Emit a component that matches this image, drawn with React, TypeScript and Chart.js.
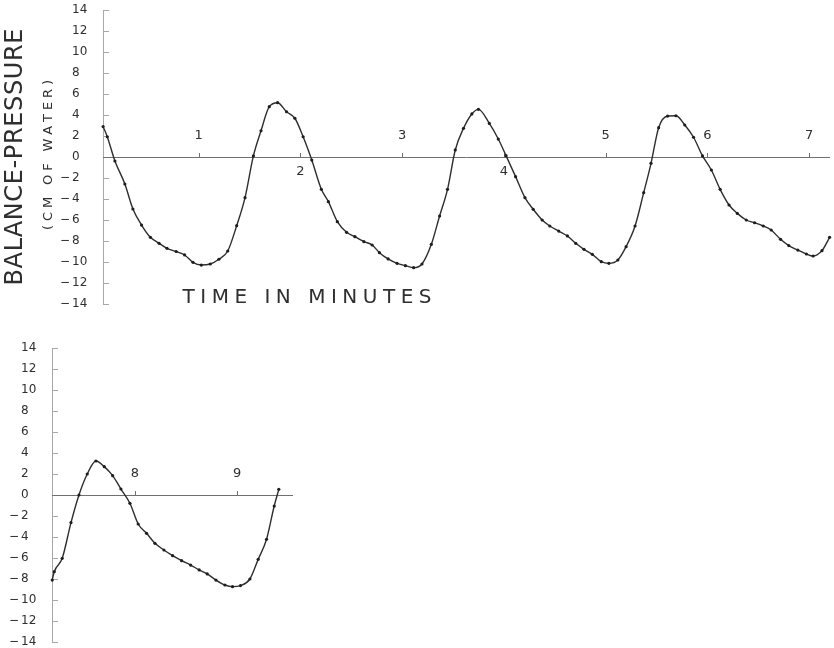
import React, { useEffect, useRef } from "react";
import { Chart, registerables } from "chart.js";

Chart.register(...registerables);

// ---- data (time in minutes, balance-pressure in cm of water) ----
const topTimes = [
  0.062, 0.103, 0.178, 0.276, 0.355, 0.44, 0.527, 0.612, 0.69, 0.78, 0.863, 0.945, 1.027, 1.115, 1.2, 1.287,
  1.375, 1.457, 1.539, 1.614, 1.695, 1.777, 1.865, 1.947, 2.028, 2.113, 2.207, 2.276, 2.364, 2.455, 2.537,
  2.625, 2.706, 2.778, 2.863, 2.951, 3.033, 3.114, 3.196, 3.288, 3.369, 3.447, 3.523, 3.604, 3.686, 3.751,
  3.858, 3.946, 4.022, 4.116, 4.208, 4.289, 4.377, 4.452, 4.54, 4.625, 4.707, 4.788, 4.87, 4.958, 5.033,
  5.121, 5.202, 5.29, 5.375, 5.447, 5.522, 5.61, 5.692, 5.779, 5.865, 5.953, 6.04, 6.126, 6.214, 6.295,
  6.383, 6.465, 6.55, 6.628, 6.72, 6.801, 6.89, 6.974, 7.04, 7.127, 7.202,
];
const topValues = [
  2.9, 1.93, -0.38, -2.57, -4.95, -6.48, -7.65, -8.22, -8.7, -9.0, -9.33, -10.03, -10.29, -10.19, -9.74, -8.95,
  -6.54, -3.87, 0.1, 2.5, 4.79, 5.17, 4.31, 3.69, 1.93, -0.29, -3.08, -4.25, -6.16, -7.17, -7.59,
  -8.06, -8.38, -9.11, -9.71, -10.13, -10.35, -10.54, -10.19, -8.32, -5.62, -3.08, 0.67, 2.73, 4.1, 4.54,
  3.2, 1.71, 0.13, -1.87, -3.87, -4.98, -6.0, -6.57, -7.05, -7.52, -8.22, -8.79, -9.27, -9.97, -10.13,
  -9.81, -8.54, -6.57, -3.4, -0.6, 2.79, 3.9, 3.93, 3.05, 1.88, 0.1, -1.24, -3.08, -4.57, -5.37,
  -6.0, -6.26, -6.57, -6.95, -7.84, -8.44, -8.86, -9.24, -9.43, -8.92, -7.65,
];

const bottomTimes = [
  7.19, 7.21, 7.288, 7.374, 7.452, 7.533, 7.618, 7.7, 7.782, 7.863, 7.951, 8.032, 8.114, 8.196, 8.284,
  8.369, 8.457, 8.545, 8.629, 8.708, 8.793, 8.881, 8.956, 9.034, 9.126, 9.207, 9.289, 9.364, 9.409,
];
const bottomValues = [
  -8.1, -7.3, -6.03, -2.63, 0, 2.0, 3.24, 2.7, 1.84, 0.57, -0.79, -2.76, -3.65, -4.6, -5.24,
  -5.78, -6.25, -6.67, -7.14, -7.52, -8.1, -8.57, -8.73, -8.63, -8.0, -6.13, -4.22, -1.05, 0.54,
];

const yTicks = [14, 12, 10, 8, 6, 4, 2, 0, -2, -4, -6, -8, -10, -12, -14];
const topMinutes = [1, 2, 3, 4, 5, 6, 7];
const topMinuteAbove = [true, false, true, false, true, true, true];
const bottomMinutes = [8, 9];
const bottomMinuteAbove = [true, true];

const yTitle = "BALANCE-PRESSURE";
const ySubTitle = "(CM OF WATER)";
const xTitle = "TIME IN MINUTES";

const FONT = "'DejaVu Sans', 'Liberation Sans', sans-serif";
const INK = "#2f2f2f";

function drawSpaced(
  ctx: CanvasRenderingContext2D,
  text: string,
  cx: number,
  cy: number,
  targetWidth: number,
  rotate: boolean
) {
  ctx.save();
  ctx.translate(cx, cy);
  if (rotate) ctx.rotate(-Math.PI / 2);
  const chars = text.split("");
  const widths = chars.map((c) => ctx.measureText(c).width);
  const natural = widths.reduce((a, b) => a + b, 0);
  const gap = chars.length > 1 ? (targetWidth - natural) / (chars.length - 1) : 0;
  let x = -targetWidth / 2;
  ctx.textAlign = "left";
  ctx.textBaseline = "middle";
  chars.forEach((c, i) => {
    ctx.fillText(c, x, 0);
    x += widths[i] + gap;
  });
  ctx.restore();
}

function makeAxesPlugin(minutes: number[], above: boolean[], withTitles: boolean) {
  return {
    id: "paperAxes",
    beforeDatasetsDraw(chart: any) {
      const ctx: CanvasRenderingContext2D = chart.ctx;
      const xs = chart.scales.x;
      const ys = chart.scales.y;
      const left = chart.chartArea.left;
      const right = chart.chartArea.right;
      const y0 = ys.getPixelForValue(0);
      ctx.save();
      ctx.strokeStyle = "#a8a8a8";
      ctx.lineWidth = 1;
      ctx.beginPath();
      ctx.moveTo(left + 0.5, ys.getPixelForValue(14));
      ctx.lineTo(left + 0.5, ys.getPixelForValue(-14));
      ctx.stroke();
      yTicks.forEach((v) => {
        const py = Math.round(ys.getPixelForValue(v)) + 0.5;
        ctx.beginPath();
        ctx.moveTo(left, py);
        ctx.lineTo(left + 6, py);
        ctx.stroke();
      });
      ctx.strokeStyle = "#707070";
      ctx.beginPath();
      ctx.moveTo(left, Math.round(y0) + 0.5);
      ctx.lineTo(right, Math.round(y0) + 0.5);
      ctx.stroke();
      minutes.forEach((m) => {
        const px = Math.round(xs.getPixelForValue(m)) + 0.5;
        ctx.beginPath();
        ctx.moveTo(px, y0 - 4);
        ctx.lineTo(px, y0);
        ctx.stroke();
      });
      ctx.restore();
    },
    afterDraw(chart: any) {
      const ctx: CanvasRenderingContext2D = chart.ctx;
      const xs = chart.scales.x;
      const ys = chart.scales.y;
      const left = chart.chartArea.left;
      const y0 = ys.getPixelForValue(0);
      ctx.save();
      ctx.fillStyle = INK;
      ctx.font = `12px ${FONT}`;
      ctx.textBaseline = "middle";
      yTicks.forEach((v) => {
        const py = ys.getPixelForValue(v);
        const digits = String(Math.abs(v));
        ctx.textAlign = "left";
        ctx.fillText(digits, left - 31, py);
        if (v < 0) {
          ctx.textAlign = "right";
          ctx.fillText("\u2212", left - 33, py);
        }
      });
      ctx.font = `13px ${FONT}`;
      ctx.textAlign = "center";
      minutes.forEach((m, i) => {
        const px = xs.getPixelForValue(m);
        ctx.fillText(String(m), px, above[i] ? y0 - 21 : y0 + 15);
      });
      if (withTitles) {
        ctx.font = `24px ${FONT}`;
        drawSpaced(ctx, yTitle, 16, 157, 257, true);
        ctx.font = `13px ${FONT}`;
        drawSpaced(ctx, ySubTitle, 49, 155, 150, true);
        ctx.font = `20px ${FONT}`;
        drawSpaced(ctx, xTitle, 307, 298, 249, false);
      }
      ctx.restore();
    },
  };
}

function buildConfig(
  times: number[],
  values: number[],
  xMin: number,
  xMax: number,
  padding: any,
  plugin: any
): any {
  return {
    type: "line",
    data: {
      datasets: [
        {
          data: times.map((t, i) => ({ x: t, y: values[i] })),
          borderColor: "#2e2e2e",
          borderWidth: 1.4,
          pointRadius: 1.6,
          pointBackgroundColor: "#1e1e1e",
          pointBorderWidth: 0,
          cubicInterpolationMode: "monotone",
          fill: false,
          clip: false,
        },
      ],
    },
    options: {
      responsive: false,
      animation: false,
      devicePixelRatio: 1,
      layout: { padding },
      plugins: { legend: { display: false }, tooltip: { enabled: false } },
      events: [],
      scales: {
        x: { type: "linear", min: xMin, max: xMax, display: false },
        y: { type: "linear", min: -14, max: 14, display: false },
      },
    },
    plugins: [plugin],
  };
}

export default function App() {
  const topRef = useRef<HTMLCanvasElement | null>(null);
  const botRef = useRef<HTMLCanvasElement | null>(null);

  useEffect(() => {
    const top = new Chart(
      topRef.current as HTMLCanvasElement,
      buildConfig(
        topTimes,
        topValues,
        0.061,
        7.206,
        { left: 103, right: 1, top: 10, bottom: 26 },
        makeAxesPlugin(topMinutes, topMinuteAbove, true)
      )
    );
    const bot = new Chart(
      botRef.current as HTMLCanvasElement,
      buildConfig(
        bottomTimes,
        bottomValues,
        7.188,
        9.548,
        { left: 52, right: 541, top: 18, bottom: 6 },
        makeAxesPlugin(bottomMinutes, bottomMinuteAbove, false)
      )
    );
    return () => {
      top.destroy();
      bot.destroy();
    };
  }, []);

  return (
    <div style={{ position: "fixed", left: 0, top: 0, width: 834, height: 648, background: "#fff" }}>
      <canvas ref={topRef} width={834} height={330} style={{ position: "absolute", left: 0, top: 0 }} />
      <canvas ref={botRef} width={834} height={318} style={{ position: "absolute", left: 0, top: 330 }} />
    </div>
  );
}
